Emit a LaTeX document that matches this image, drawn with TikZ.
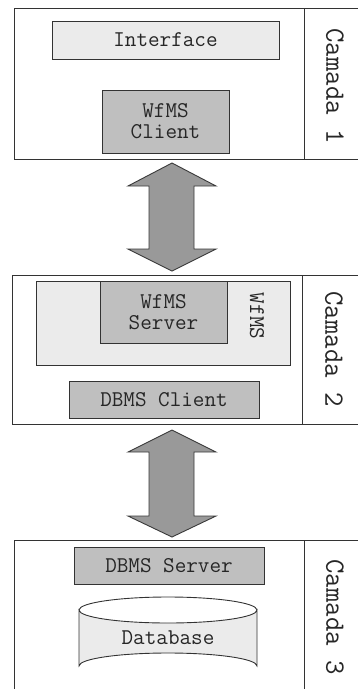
\documentclass[tikz,border=0pt]{standalone}
\usepackage{fontspec}
\newfontfamily\cour{Latin Modern Mono}
\definecolor{lightbox}{gray}{0.92}
\definecolor{darkbox}{gray}{0.75}
\definecolor{arrowfill}{gray}{0.60}
\definecolor{edge}{gray}{0.2}
\tikzset{
  tier/.style={draw=edge, line width=1pt, fill=white},
  lbox/.style={draw=edge, line width=0.9pt, fill=lightbox},
  dbox/.style={draw=edge, line width=0.9pt, fill=darkbox},
  lbl/.style={font=\cour\fontsize{22.5}{21}\selectfont, text=black!85, align=center, inner sep=0pt},
  camada/.style={font=\cour\fontsize{28}{27}\selectfont, text=black!85, rotate=-90, inner sep=0pt},
  bigarrow/.style={draw=gray!45!black, line width=0.9pt, fill=arrowfill}
}
\begin{document}
\begin{tikzpicture}[x=1pt,y=-1pt]
\useasboundingbox (0,0) rectangle (358,689);
% Tier 1
\draw[tier] (14,8) rectangle (358,159);
\draw[edge, line width=1pt] (304,8) -- (304,159);
\draw[lbox] (52,21) rectangle (279,59);
\node[lbl] (iface) at (165.5,40) {Interface};
\draw[dbox] (102,90) rectangle (229,153);
\node[lbl] (wclient) at (165.5,121.5) {WfMS\\Client};
\node[camada] (c1) at (335,86) {Camada 1};
% Arrow 1
\draw[bigarrow] (172,163) -- (216,186) -- (194,186) -- (194,249) -- (216,249) -- (172,271)
  -- (128,249) -- (149,249) -- (149,186) -- (128,186) -- cycle;
% Tier 2
\draw[tier] (12,275) rectangle (358,424);
\draw[edge, line width=1pt] (302,275) -- (302,424);
\draw[lbox] (36,281) rectangle (290,365);
\draw[dbox] (100,281) rectangle (227,343);
\node[lbl] (wserver) at (163.5,312) {WfMS\\Server};
\node[lbl, rotate=-90] (wfms) at (257,316) {WfMS};
\draw[dbox] (69,381) rectangle (259,418);
\node[lbl] (dclient) at (164,399.5) {DBMS Client};
\node[camada] (c2) at (334,349) {Camada 2};
% Arrow 2
\draw[bigarrow] (172,430) -- (216,452) -- (194,452) -- (194,516) -- (216,516) -- (172,537)
  -- (128,516) -- (149,516) -- (149,452) -- (128,452) -- cycle;
% Tier 3
\draw[tier] (14,540) rectangle (358,700);
\draw[edge, line width=1pt] (304,540) -- (304,700);
\draw[dbox] (74,547) rectangle (264,584);
\node[lbl] (dserver) at (169,565.5) {DBMS Server};
\draw[lbox] (79,610) -- (79,666) arc[start angle=180, end angle=360, x radius=89, y radius=13]
  -- (257,610) arc[start angle=0, end angle=180, x radius=89, y radius=13] -- cycle;
\draw[edge, line width=0.9pt] (79,610) arc[start angle=180, end angle=360, x radius=89, y radius=13];
\node[lbl] (db) at (168,638) {Database};
\node[camada] (c3) at (335,617) {Camada 3};
\end{tikzpicture}
\end{document}
